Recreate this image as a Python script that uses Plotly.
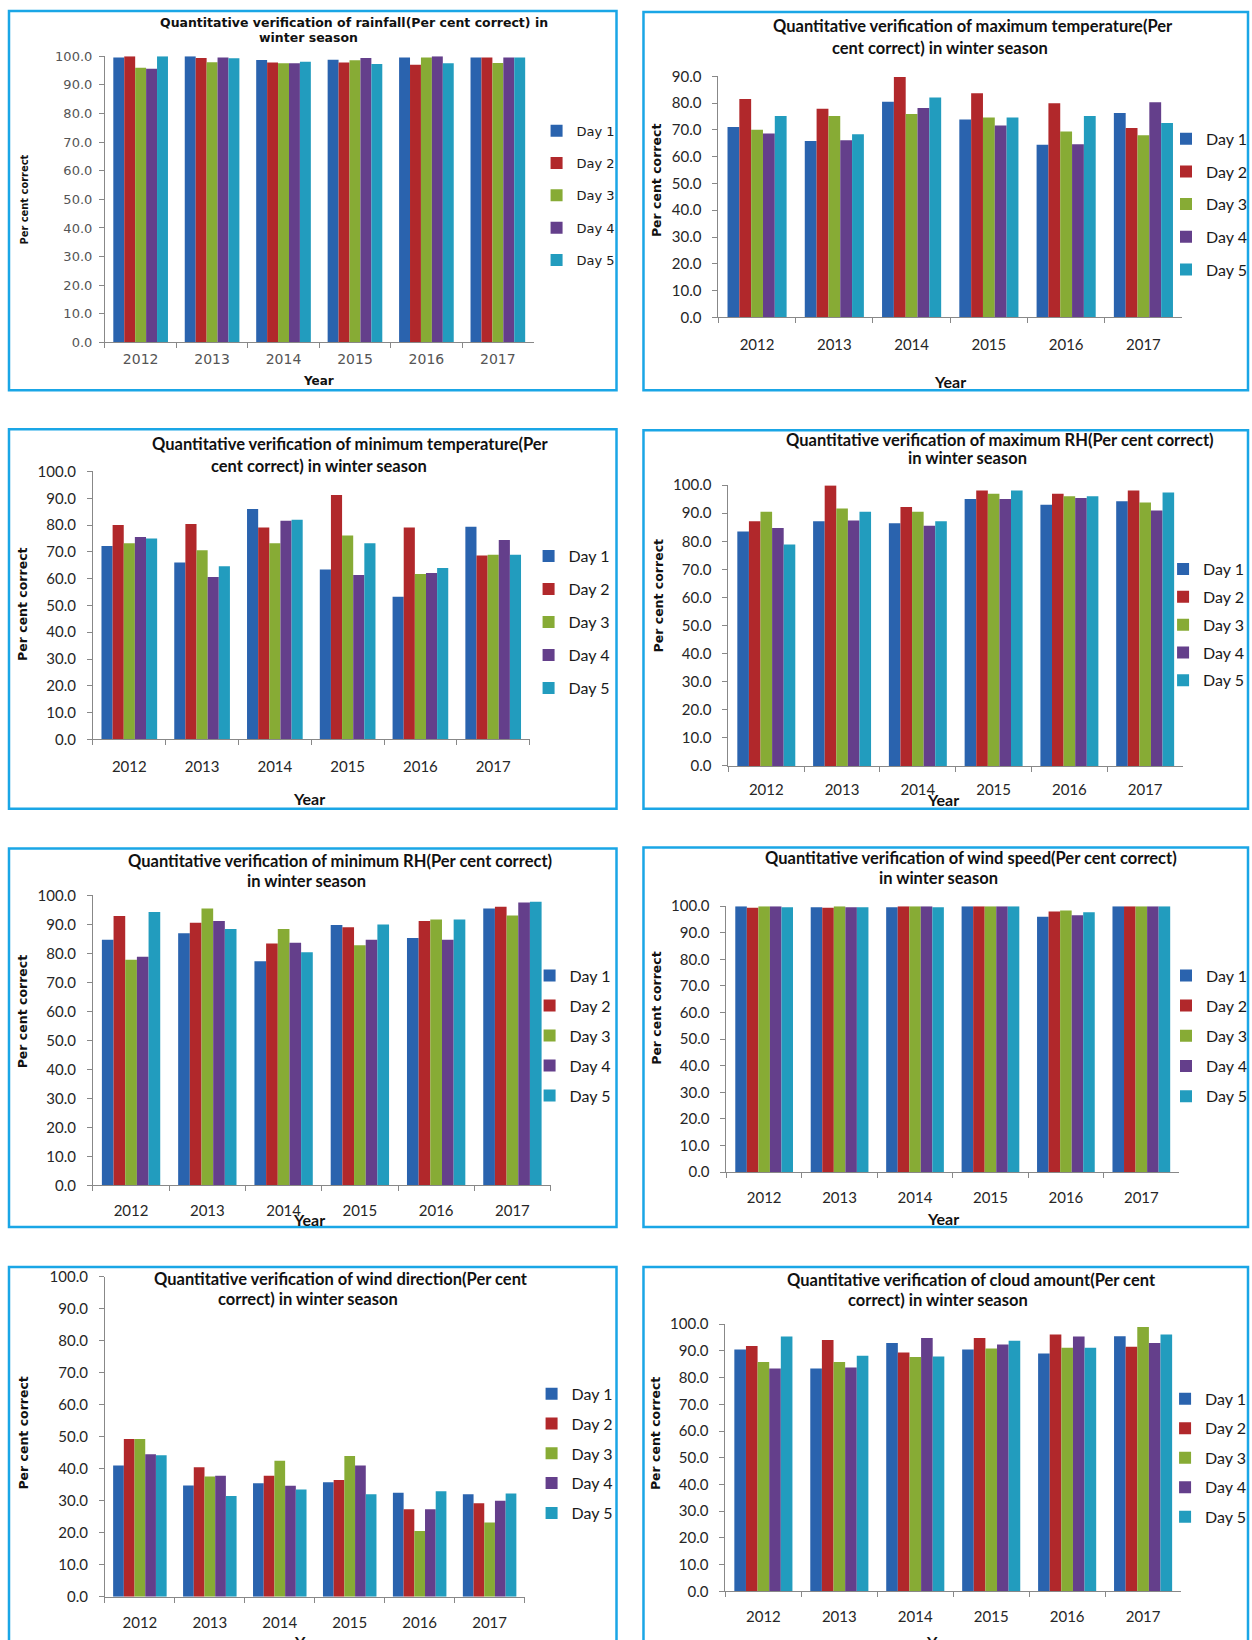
import plotly.graph_objects as go

# ---------------------------------------------------------------- data
YEARS = ["2012", "2013", "2014", "2015", "2016", "2017"]
DAYS = ["Day 1", "Day 2", "Day 3", "Day 4", "Day 5"]
DAY_COLORS = ["#2A63AE", "#B1282B", "#87AB35", "#643F8B", "#229CBE"]

# Per cent correct: one row per forecast day, one value per year
rainfall = [
    [99.6, 100.0, 98.7, 98.8, 99.6, 99.6],
    [100.0, 99.4, 97.8, 97.8, 97.1, 99.6],
    [96.0, 97.9, 97.6, 98.6, 99.6, 97.7],
    [95.7, 99.6, 97.6, 99.4, 100.0, 99.6],
    [100.0, 99.3, 98.1, 97.3, 97.6, 99.6],
]
max_temperature = [
    [71.1, 65.8, 80.5, 73.9, 64.4, 76.3],
    [81.5, 77.9, 89.7, 83.7, 79.9, 70.7],
    [70.0, 75.2, 75.9, 74.6, 69.4, 68.0],
    [68.6, 66.1, 78.2, 71.6, 64.6, 80.3],
    [75.2, 68.4, 82.1, 74.6, 75.2, 72.6],
]
min_temperature = [
    [72.2, 66.0, 86.0, 63.4, 53.2, 79.4],
    [80.0, 80.4, 79.1, 91.2, 79.1, 68.6],
    [73.2, 70.6, 73.2, 76.1, 61.7, 68.9],
    [75.5, 60.6, 81.6, 61.4, 62.1, 74.4],
    [75.0, 64.6, 82.0, 73.2, 64.0, 68.9],
]
max_rh = [
    [83.5, 87.1, 86.4, 95.1, 93.0, 94.3],
    [87.1, 99.9, 92.2, 98.1, 96.9, 98.1],
    [90.5, 91.7, 90.5, 96.9, 96.0, 93.8],
    [84.7, 87.4, 85.5, 95.1, 95.4, 91.0],
    [78.9, 90.5, 87.1, 98.1, 96.0, 97.4],
]
min_rh = [
    [84.7, 87.0, 77.3, 89.8, 85.3, 95.5],
    [92.9, 90.6, 83.4, 89.0, 91.2, 96.1],
    [77.8, 95.5, 88.4, 82.8, 91.7, 93.1],
    [78.9, 91.2, 83.7, 84.7, 84.7, 97.6],
    [94.3, 88.4, 80.4, 90.0, 91.7, 97.8],
]
wind_speed = [
    [100.0, 99.6, 99.6, 100.0, 96.0, 100.0],
    [99.4, 99.4, 100.0, 100.0, 98.0, 100.0],
    [100.0, 100.0, 100.0, 100.0, 98.4, 100.0],
    [100.0, 99.6, 100.0, 100.0, 96.6, 100.0],
    [99.6, 99.6, 99.6, 100.0, 97.7, 100.0],
]
wind_direction = [
    [41.0, 34.8, 35.5, 35.8, 32.5, 32.0],
    [49.3, 40.5, 37.8, 36.5, 27.3, 29.2],
    [49.3, 37.6, 42.5, 44.0, 20.5, 23.2],
    [44.5, 37.8, 34.7, 41.0, 27.3, 30.0],
    [44.2, 31.5, 33.5, 32.0, 33.0, 32.3],
]
cloud_amount = [
    [90.5, 83.4, 92.9, 90.5, 89.0, 95.5],
    [91.8, 94.1, 89.4, 94.8, 96.1, 91.5],
    [85.8, 85.8, 87.7, 90.9, 91.2, 98.9],
    [83.4, 83.8, 94.8, 92.4, 95.4, 92.9],
    [95.4, 88.2, 87.9, 93.8, 91.2, 96.1],
]

TITLES = [
    ("Quantitative verification of rainfall(Per cent correct) in", "winter season"),
    ("Quantitative verification of maximum temperature(Per", "cent correct) in winter season"),
    ("Quantitative verification of minimum temperature(Per", "cent correct) in winter season"),
    ("Quantitative verification of maximum RH(Per cent correct)", "in winter season"),
    ("Quantitative verification of minimum RH(Per cent correct)", "in winter season"),
    ("Quantitative verification of wind speed(Per cent correct)", "in winter season"),
    ("Quantitative verification of wind direction(Per cent", "correct) in winter season"),
    ("Quantitative verification of cloud amount(Per cent", "correct) in winter season"),
]
SERIES = [rainfall, max_temperature, min_temperature, max_rh,
          min_rh, wind_speed, wind_direction, cloud_amount]
Y_MAX = [100, 90, 100, 100, 100, 100, 100, 100]
Y_LABEL = "Per cent correct"
X_LABEL = "Year"

# ---------------------------------------------------------------- layout (pixels)
W, H = 1252, 1640
# vertical offset/scale of the page body relative to the figure canvas
PAGE_DY, PAGE_SY = 7.1, 0.9906

# box: frame (left, top, right, bottom); ax: x-axis span; y0/ytop: pixel rows of 0 and max
GEOM = [
    dict(box=(9, 8, 617, 388), ax=(105, 534), y0=340, ytop=53.5, t1=(354, 20), t2=(309, 35),
         ytitle=(25, 197), year=(319, 379), leg=(573, 128), step=32.3, xstand=4),
    dict(box=(644, 9, 1249, 388), ax=(719, 1183), y0=315, ytop=73.5, t1=(974, 23), t2=(941, 45),
         ytitle=(657, 178), year=(951, 379), leg=(1203, 136), step=32.7, xstand=14),
    dict(box=(9, 427, 617, 807), ax=(93, 530), y0=737.7, ytop=469.3, t1=(351, 442), t2=(319, 464),
         ytitle=(23, 602), year=(309, 797), leg=(565, 554), step=33.0, xstand=14),
    dict(box=(644, 428, 1249, 807), ax=(729, 1184), y0=764.3, ytop=483, t1=(1001, 438), t2=(968, 456),
         ytitle=(659, 594), year=(944, 798), leg=(1200, 567), step=27.8, xstand=10),
    dict(box=(9, 847, 617, 1226), ax=(93, 551), y0=1184.3, ytop=894, t1=(340, 859), t2=(307, 879),
         ytitle=(22, 1010), year=(309, 1219), leg=(566, 974), step=30.0, xstand=12),
    dict(box=(644, 846, 1249, 1226), ax=(727, 1180), y0=1171, ytop=904.7, t1=(972, 856), t2=(939, 876),
         ytitle=(657, 1007), year=(944, 1218), leg=(1203, 974), step=30.2, xstand=12),
    dict(box=(9, 1266, 617, 1700), ax=(105, 525), y0=1596.3, ytop=1276, t1=(341, 1278), t2=(308, 1298),
         ytitle=(24, 1432), year=(310, 1641), leg=(568, 1393), step=29.8, xstand=12),
    dict(box=(644, 1266, 1249, 1700), ax=(726, 1182), y0=1591, ytop=1323.3, t1=(972, 1279), t2=(939, 1299),
         ytitle=(656, 1433), year=(943, 1641), leg=(1202, 1398), step=29.5, xstand=12),
]

FRAME_COLOR = "#1AA6E6"
AXIS_COLOR = "#888888"


def px(x):
    return x / W


def py(y):
    return 1 - ((y - PAGE_DY) / PAGE_SY) / H


fig = go.Figure()
layout = dict(
    width=W, height=H, margin=dict(l=0, r=0, t=0, b=0),
    paper_bgcolor="white", plot_bgcolor="white",
    barmode="group", bargap=0.235, bargroupgap=0,
    showlegend=True, shapes=[], annotations=[],
)

for i, (values, g) in enumerate(zip(SERIES, GEOM)):
    n = i + 1
    small = i == 0
    fam = "DejaVu Sans" if small else "Lato"
    tick_color = "#555555" if small else "#262626"
    leg_name = "legend" if n == 1 else f"legend{n}"

    for j, day in enumerate(DAYS):
        fig.add_trace(go.Bar(
            x=YEARS, y=values[j], name=day,
            marker=dict(color=DAY_COLORS[j], line=dict(width=0)),
            xaxis=f"x{n}", yaxis=f"y{n}",
            legend=leg_name, legendgroup=f"p{n}d{j}",
            hovertemplate="%{x}<br>" + day + ": %{y:.1f}<extra></extra>",
        ))

    xa = "xaxis" if n == 1 else f"xaxis{n}"
    ya = "yaxis" if n == 1 else f"yaxis{n}"
    layout[xa] = dict(
        domain=[px(g["ax"][0]), px(g["ax"][1])], anchor=f"y{n}",
        type="category", categoryorder="array", categoryarray=YEARS,
        showline=True, linecolor=AXIS_COLOR, linewidth=1,
        ticks="outside", tickson="boundaries", ticklen=5, tickcolor=AXIS_COLOR,
        showgrid=False, zeroline=False, fixedrange=True,
        tickfont=dict(family=fam, size=14 if small else 15, color=tick_color),
        ticklabelstandoff=g["xstand"],
    )
    layout[ya] = dict(
        domain=[py(g["y0"]), py(g["ytop"])], anchor=f"x{n}",
        range=[0, Y_MAX[i]], dtick=10, tick0=0, tickformat=".1f",
        showline=True, linecolor=AXIS_COLOR, linewidth=1,
        ticks="outside", ticklen=5, tickcolor=AXIS_COLOR,
        showgrid=False, zeroline=False, fixedrange=True,
        tickfont=dict(family=fam, size=13 if small else 15, color=tick_color),
        ticklabelstandoff=4 if small else 8,
    )

    leg_font = 13 if small else 16
    item_h = max(leg_font * 1.3, 16) + 3
    layout[leg_name] = dict(
        x=px(g["leg"][0] - 36), y=py(g["leg"][1] - 5 - item_h / 2),
        xanchor="left", yanchor="top",
        bgcolor="rgba(0,0,0,0)", borderwidth=0,
        traceorder="grouped", tracegroupgap=max(g["step"] - item_h, 0),
        itemwidth=30, itemclick=False, itemdoubleclick=False,
        font=dict(family=fam, size=leg_font, color="#1a1a1a"),
    )

    # chart frame
    l, t, r, b = g["box"]
    layout["shapes"].append(dict(
        type="rect", xref="paper", yref="paper",
        x0=px(l), x1=px(r), y0=py(b), y1=py(t),
        line=dict(color=FRAME_COLOR, width=2.5), fillcolor="rgba(0,0,0,0)", layer="above",
    ))

    title_font = dict(family="DejaVu Sans" if small else "Lato",
                      size=12.5 if small else 16.5, color="#111111", weight="bold")
    for line, (cx, cy) in zip(TITLES[i], (g["t1"], g["t2"])):
        layout["annotations"].append(dict(
            text=line, x=px(cx), y=py(cy), xref="paper", yref="paper",
            xanchor="center", yanchor="middle", showarrow=False, font=title_font,
        ))

    layout["annotations"].append(dict(
        text=Y_LABEL, x=px(g["ytitle"][0]), y=py(g["ytitle"][1]), xref="paper", yref="paper",
        xanchor="center", yanchor="middle", showarrow=False, textangle=-90,
        font=dict(family="DejaVu Sans Condensed, Liberation Sans Narrow, DejaVu Sans" if small
                  else "DejaVu Sans", size=11 if small else 12.5, color="#111111", weight="bold"),
    ))
    layout["annotations"].append(dict(
        text=X_LABEL, x=px(g["year"][0]), y=py(g["year"][1]), xref="paper", yref="paper",
        xanchor="center", yanchor="middle", showarrow=False,
        font=dict(family="DejaVu Sans" if small else "Lato", size=12 if small else 16,
                  color="#111111", weight="bold"),
    ))

fig.update_layout(**layout)
fig.write_html("out.html", config={"displayModeBar": False})
